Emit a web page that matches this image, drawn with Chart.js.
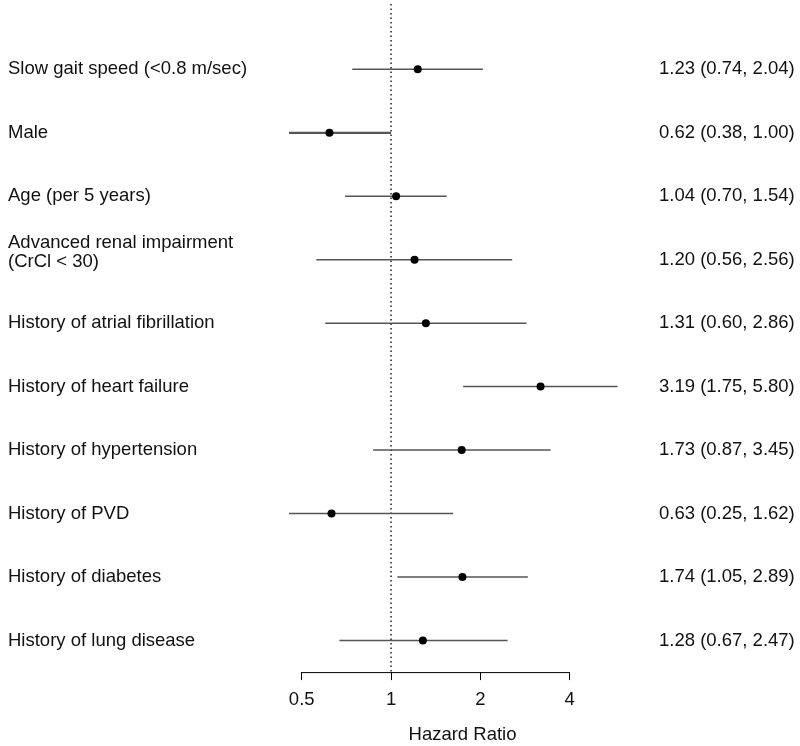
<!DOCTYPE html>
<html>
<head>
<meta charset="utf-8">
<script src="https://cdn.jsdelivr.net/npm/chart.js@4.4.1/dist/chart.umd.min.js"></script>
<style>
  html, body { margin: 0; padding: 0; background: #fff; }
  #wrap { width: 800px; height: 746px; position: relative; }
</style>
</head>
<body>
<div id="wrap"><canvas id="chart"></canvas></div>
<script>
// data
const factors = [
  "Slow gait speed (<0.8 m/sec)",
  "Male",
  "Age (per 5 years)",
  ["Advanced renal impairment", "(CrCl < 30)"],
  "History of atrial fibrillation",
  "History of heart failure",
  "History of hypertension",
  "History of PVD",
  "History of diabetes",
  "History of lung disease"
];
const hr    = [1.23, 0.62, 1.04, 1.20, 1.31, 3.19, 1.73, 0.63, 1.74, 1.28];
const lower = [0.74, 0.38, 0.70, 0.56, 0.60, 1.75, 0.87, 0.25, 1.05, 0.67];
const upper = [2.04, 1.00, 1.54, 2.56, 2.86, 5.80, 3.45, 1.62, 2.89, 2.47];

const tickValues = [0.5, 1, 2, 4];
const tickLabels = ["0.5", "1", "2", "4"];
const axisTitle = "Hazard Ratio";

const FONT = "'Liberation Sans', Arial, Helvetica, sans-serif";
const FSIZE = 18.5;

/* ===============================
   LABELS + AXIS LINE
================================ */

const sidePlugin = {
  id: "sideText",
  afterDraw(chart) {
    const { ctx, scales } = chart;
    const xs = scales.x, ys = scales.y;
    ctx.save();

    // partial axis line, 0.5 to 4
    const yb = chart.chartArea.bottom;
    ctx.strokeStyle = "#000";
    ctx.lineWidth = 1;
    ctx.beginPath();
    ctx.moveTo(xs.getPixelForValue(tickValues[0]), yb + 0.5);
    ctx.lineTo(xs.getPixelForValue(tickValues[tickValues.length - 1]), yb + 0.5);
    ctx.stroke();

    ctx.font = FSIZE + "px " + FONT;
    ctx.fillStyle = "#111";
    ctx.textBaseline = "middle";
    ctx.textAlign = "left";

    factors.forEach((f, i) => {
      const y = ys.getPixelForValue(i);
      const lines = Array.isArray(f) ? f : [f];
      lines.forEach((t, k) => {
        const dy = (lines.length - 1 - k) * 19;
        ctx.fillText(t, 8, y - dy + (lines.length > 1 ? 2 : 0));
      });
      const txt = `${hr[i].toFixed(2)} (${lower[i].toFixed(2)}, ${upper[i].toFixed(2)})`;
      ctx.fillText(txt, 659, y);
    });
    ctx.restore();
  }
};

/* ===============================
   DATASETS
================================ */

const pointSet = {
  type: "scatter",
  data: hr.map((v, i) => ({ x: v, y: i })),
  pointRadius: 4,
  pointBackgroundColor: "#000",
  pointBorderColor: "#000",
  pointBorderWidth: 0,
  showLine: false
};

const ciSets = factors.map((_, i) => ({
  type: "line",
  data: [{ x: lower[i], y: i }, { x: upper[i], y: i }],
  borderColor: "#555",
  borderWidth: i === 1 ? 2.2 : 1.5,
  pointRadius: 0
}));

const yMin = -1.03, yMax = 9.499;

const refLine = {
  type: "line",
  data: [{ x: 1, y: yMin }, { x: 1, y: yMax }],
  borderColor: "#222",
  borderWidth: 1.5,
  borderDash: [1.5, 3],
  pointRadius: 0
};

new Chart(document.getElementById("chart"), {
  data: { datasets: [pointSet, ...ciSets, refLine] },
  options: {
    responsive: true,
    maintainAspectRatio: false,
    animation: false,
    layout: { padding: { left: 289, right: 164, top: 0, bottom: 0 } },
    plugins: { legend: { display: false }, tooltip: { enabled: false } },
    scales: {
      x: {
        type: "logarithmic",
        min: 0.453,
        max: 6.69,
        afterBuildTicks: s => { s.ticks = tickValues.map(v => ({ value: v })); },
        ticks: {
          autoSkip: false,
          maxRotation: 0,
          padding: 9,
          color: "#111",
          font: { family: FONT, size: FSIZE },
          callback: v => tickLabels[tickValues.indexOf(v)]
        },
        grid: { drawOnChartArea: false, drawTicks: true, tickLength: 8, color: "#000", lineWidth: 1 },
        border: { display: false },
        title: {
          display: true,
          text: axisTitle,
          color: "#111",
          font: { family: FONT, size: FSIZE },
          padding: { top: 3.5, bottom: 0 }
        }
      },
      y: {
        type: "linear",
        reverse: true,
        min: yMin,
        max: yMax,
        display: false
      }
    }
  },
  plugins: [sidePlugin]
});
</script>
</body>
</html>
